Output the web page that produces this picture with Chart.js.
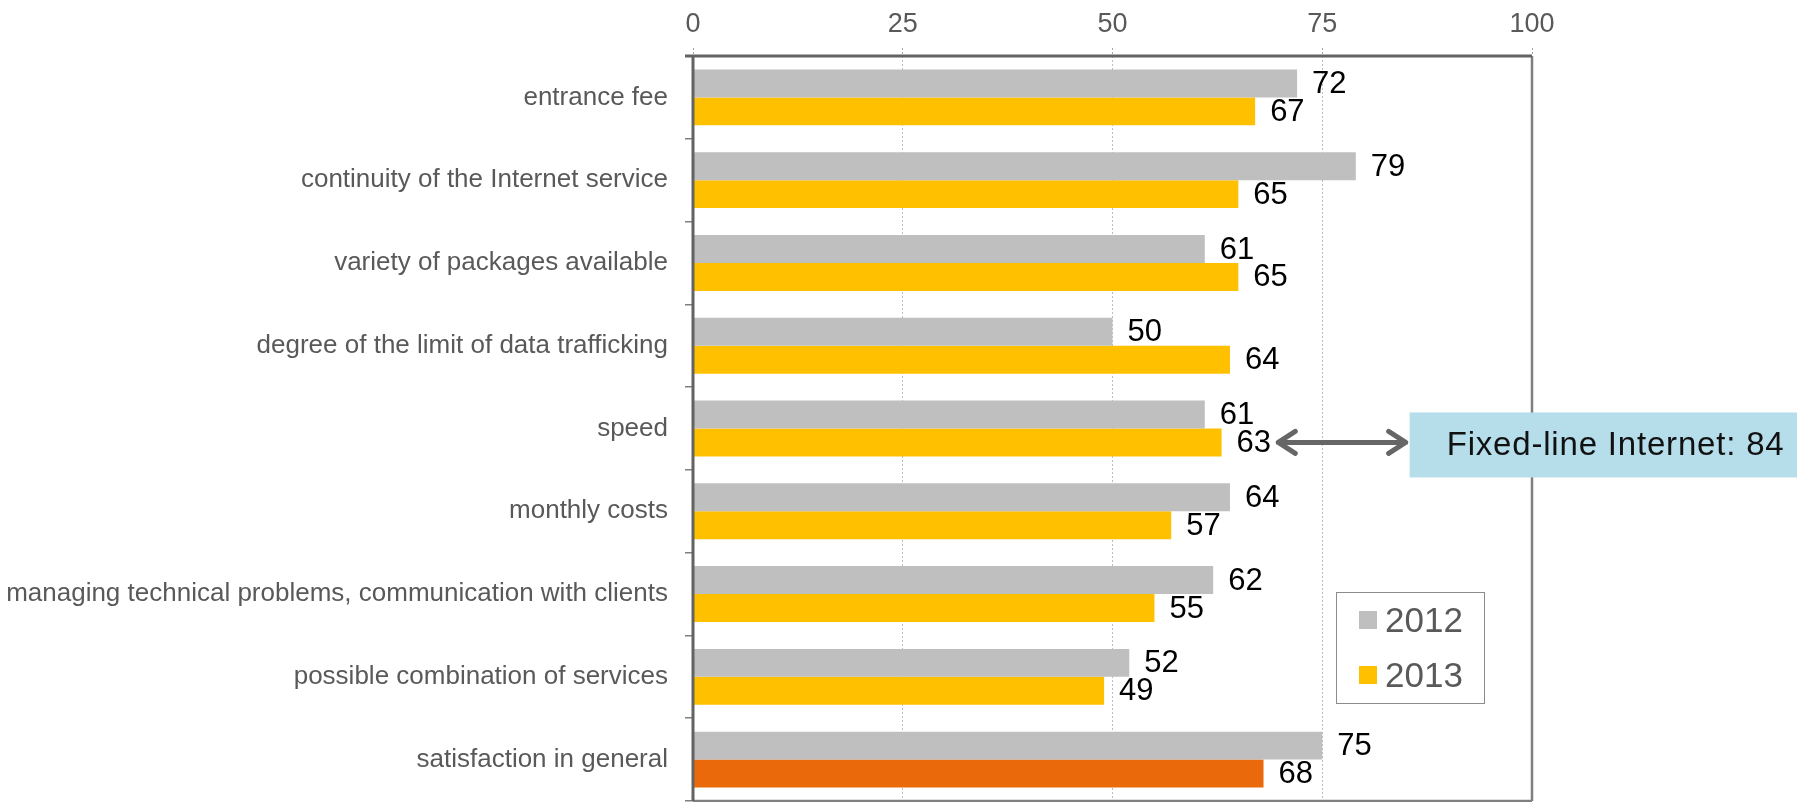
<!DOCTYPE html>
<html>
<head>
<meta charset="utf-8">
<script src="https://cdn.jsdelivr.net/npm/chart.js@4.4.1/dist/chart.umd.min.js"></script>
<style>
  html, body { margin: 0; padding: 0; background: #fff; }
  #wrap { width: 1797px; height: 802px; position: relative; }
</style>
</head>
<body>
<div id="wrap"><canvas id="chart" width="1797" height="802"></canvas></div>
<script>
const categories = [
  'entrance fee',
  'continuity of the Internet service',
  'variety of packages available',
  'degree of the limit of data trafficking',
  'speed',
  'monthly costs',
  'managing technical problems, communication with clients',
  'possible combination of services',
  'satisfaction in general'
];
const seriesNames = ['2012', '2013'];
const values2012 = [72, 79, 61, 50, 61, 64, 62, 52, 75];
const values2013 = [67, 65, 65, 64, 63, 57, 55, 49, 68];
const tickValues = [0, 25, 50, 75, 100];
const calloutText = 'Fixed-line Internet: 84';
const calloutRow = 4; // speed
const arrowRange = [69.4, 85.3];

const GREY = '#BFBFBF';
const YELLOW = '#FFC000';
const ORANGE = '#EA6A0B';
const TEXT = '#595959';
const FONT = '"Liberation Sans", Arial, sans-serif';

// last 2013 bar (overall satisfaction) is highlighted
const colors2013 = values2013.map((v, i) => i === values2013.length - 1 ? ORANGE : YELLOW);

const valueLabels = {
  id: 'valueLabels',
  afterDatasetsDraw(chart) {
    const ctx = chart.ctx;
    ctx.save();
    ctx.font = '31px ' + FONT;
    ctx.fillStyle = '#000';
    ctx.textBaseline = 'middle';
    ctx.textAlign = 'left';
    chart.data.datasets.forEach((ds, di) => {
      chart.getDatasetMeta(di).data.forEach((bar, i) => {
        ctx.fillText(String(ds.data[i]), bar.x + 15, bar.y + 1);
      });
    });
    ctx.restore();
  }
};

const frameAndExtras = {
  id: 'frameAndExtras',
  afterDraw(chart) {
    const {ctx, chartArea: a, scales} = chart;
    ctx.save();
    // plot frame
    ctx.strokeStyle = '#7F7F7F';
    ctx.lineWidth = 2.5;
    ctx.beginPath();
    ctx.moveTo(a.right, a.top); ctx.lineTo(a.right, a.bottom);
    ctx.moveTo(a.left, a.bottom); ctx.lineTo(a.right, a.bottom);
    ctx.stroke();
    ctx.strokeStyle = '#636363';
    ctx.lineWidth = 3;
    ctx.beginPath();
    ctx.moveTo(a.left - 8, a.top); ctx.lineTo(a.right, a.top);
    ctx.moveTo(a.left, a.top); ctx.lineTo(a.left, a.bottom);
    ctx.stroke();

    // legend box
    const lx = 1336, ly = 592, lw = 148, lh = 111;
    ctx.fillStyle = '#fff';
    ctx.fillRect(lx, ly, lw, lh);
    ctx.strokeStyle = '#8C8C8C';
    ctx.lineWidth = 1;
    ctx.strokeRect(lx + 0.5, ly + 0.5, lw, lh);
    ctx.font = '35px ' + FONT;
    ctx.textBaseline = 'middle';
    ctx.textAlign = 'left';
    chart.data.datasets.forEach((ds, i) => {
      const cy = ly + 28 + i * 55;
      ctx.fillStyle = Array.isArray(ds.backgroundColor) ? ds.backgroundColor[0] : ds.backgroundColor;
      ctx.fillRect(lx + 23, cy - 9, 18, 18);
      ctx.fillStyle = TEXT;
      ctx.fillText(ds.label, lx + 49, cy + 2);
    });

    // callout: arrow + box
    const x = scales.x;
    const bar = chart.getDatasetMeta(1).data[calloutRow];
    const ay = bar.y;
    const x1 = x.getPixelForValue(arrowRange[0]);
    const x2 = x.getPixelForValue(arrowRange[1]);
    const boxLeft = x2 + 1;
    ctx.fillStyle = '#B5DDEA';
    ctx.fillRect(boxLeft, ay - 30, chart.width - boxLeft, 65);
    ctx.strokeStyle = '#666666';
    ctx.lineWidth = 5;
    ctx.lineCap = 'round';
    ctx.lineJoin = 'round';
    ctx.beginPath();
    ctx.moveTo(x1 + 3, ay); ctx.lineTo(x2 - 3, ay);
    ctx.moveTo(x1 + 20, ay - 11); ctx.lineTo(x1 + 3, ay); ctx.lineTo(x1 + 20, ay + 11);
    ctx.moveTo(x2 - 20, ay - 11); ctx.lineTo(x2 - 3, ay); ctx.lineTo(x2 - 20, ay + 11);
    ctx.stroke();
    ctx.fillStyle = '#111';
    ctx.font = '33px ' + FONT;
    ctx.textBaseline = 'middle';
    // spread letters so the text fills the same width as in the slide
    const w = ctx.measureText(calloutText).width;
    const spacing = Math.max(0, (337 - w) / (calloutText.length - 1));
    ctx.letterSpacing = spacing.toFixed(2) + 'px';
    ctx.fillText(calloutText, boxLeft + 37, ay + 3);
    ctx.restore();
  }
};

new Chart(document.getElementById('chart'), {
  type: 'bar',
  data: {
    labels: categories,
    datasets: [
      { label: seriesNames[0], data: values2012, backgroundColor: GREY },
      { label: seriesNames[1], data: values2013, backgroundColor: colors2013 }
    ]
  },
  options: {
    indexAxis: 'y',
    responsive: false,
    maintainAspectRatio: false,
    animation: false,
    categoryPercentage: 0.675,
    barPercentage: 1,
    layout: { padding: { left: 0, right: 265, top: 0, bottom: 1 } },
    plugins: {
      legend: { display: false },
      tooltip: { enabled: false }
    },
    scales: {
      x: {
        position: 'top',
        min: 0,
        max: 100,
        afterBuildTicks: s => { s.ticks = tickValues.map(v => ({ value: v })); },
        afterFit: s => { s.height = 56; s.paddingRight = 0; s.paddingLeft = 0; },
        border: { display: false, dash: [2, 2] },
        grid: {
          color: '#BDBDBD',
          lineWidth: 1,
          tickLength: 8,
          tickColor: '#A6A6A6',
          tickBorderDash: [2, 2]
        },
        ticks: {
          color: TEXT,
          padding: 7,
          font: { family: FONT, size: 27 }
        }
      },
      y: {
        afterFit: s => { s.width = 693; s.paddingTop = 0; s.paddingBottom = 0; },
        border: { display: false },
        grid: {
          drawOnChartArea: false,
          tickLength: 8,
          tickColor: '#7F7F7F',
          lineWidth: 1.5
        },
        ticks: {
          color: TEXT,
          padding: 17,
          font: { family: FONT, size: 26 }
        }
      }
    }
  },
  plugins: [valueLabels, frameAndExtras]
});
</script>
</body>
</html>
